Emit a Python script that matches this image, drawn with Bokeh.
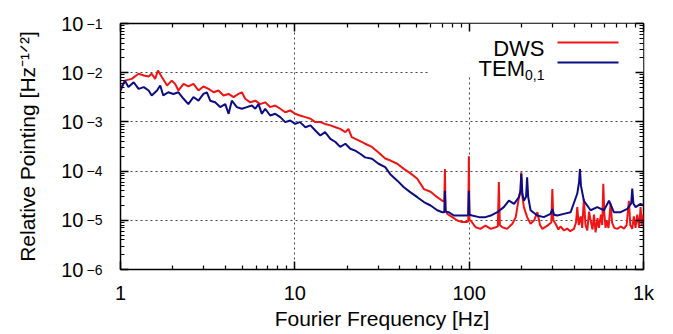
from bokeh.plotting import figure
from bokeh.models import (Range1d, LogAxis, FixedTicker, CustomJSTickFormatter,
                          Label, BoxAnnotation)
from bokeh.embed import file_html
from bokeh.resources import INLINE

# ---------------- data ----------------
dws_freq = [1.0, 1.06, 1.16, 1.27, 1.36, 1.45, 1.51, 1.58, 1.64, 1.73, 1.85, 1.97, 2.06, 2.15,
            2.30, 2.45, 2.62, 2.80, 2.99, 3.20, 3.42, 3.65, 3.90, 4.17, 4.45, 4.75, 4.97, 5.19,
            5.55, 5.93, 6.33, 6.76, 7.22, 7.72, 8.25, 8.81, 9.41, 10.05, 10.7, 11.5, 12.3, 13.1,
            14.0, 14.9, 16.0, 17.1, 18.2, 19.5, 20.3, 21.2, 23.2, 25.3, 27.7, 30.2, 33.0, 35.4,
            38.7, 42.2, 46.1, 50.4, 55.0, 60.1, 65.6, 70.1, 72.0, 72.6, 73.2, 74.9, 80.0, 85.5,
            91.3, 96.6, 98.8, 99.6, 100.4, 102, 109, 116, 124, 133, 142, 146, 148, 150, 155,
            165, 177, 185, 193, 197, 199, 201, 206, 215, 225, 236, 246, 255, 263, 281, 296,
            300, 304, 313, 325, 334, 350, 365, 380, 399, 410, 417, 425, 436, 445, 455, 465,
            476, 487, 497, 510, 520, 531, 545, 555, 570, 580, 588, 596, 606, 614, 630, 648,
            660, 680, 707, 740, 773, 800, 825, 840, 862, 880, 900, 921, 945, 962, 980, 1000]
dws_val = [4.7e-3, 6.9e-3, 7.5e-3, 9.5e-3, 8.8e-3, 8.4e-3, 9.5e-3, 7.5e-3, 1.11e-2, 8.1e-3,
           5.5e-3, 6.9e-3, 5.9e-3, 4.35e-3, 5.9e-3, 5.25e-3, 5.9e-3, 4.35e-3, 5.25e-3, 4.7e-3,
           4.0e-3, 4.35e-3, 3.45e-3, 3.7e-3, 3.2e-3, 3.7e-3, 4.0e-3, 2.95e-3, 2.5e-3, 2.7e-3,
           2.3e-3, 2.5e-3, 2.0e-3, 2.15e-3, 1.85e-3, 1.57e-3, 1.71e-3, 1.46e-3, 1.35e-3, 1.25e-3,
           1.16e-3, 9.9e-4, 9.9e-4, 9.1e-4, 8.5e-4, 7.8e-4, 7.2e-4, 6.2e-4, 7.2e-4, 4.9e-4,
           4.2e-4, 3.6e-4, 3.1e-4, 2.4e-4, 1.8e-4, 1.64e-4, 1.41e-4, 1.11e-4, 9.0e-5, 7.0e-5,
           4.3e-5, 3.8e-5, 2.95e-5, 2.5e-5, 2.4e-5, 1.1e-4, 1.6e-5, 1.35e-5, 1.16e-5, 9.9e-6,
           9.2e-6, 9.2e-6, 9.5e-6, 2.0e-4, 1.0e-5, 9.9e-6, 7.2e-6, 6.7e-6, 7.8e-6, 6.7e-6,
           7.2e-6, 7.5e-6, 6.0e-5, 8.0e-6, 7.2e-6, 6.7e-6, 8.5e-6, 1.16e-5, 2.95e-5, 4.0e-5,
           9.5e-5, 3.5e-5, 1.85e-5, 1.16e-5, 8.5e-6, 1.0e-5, 1.46e-5, 8.0e-6, 6.7e-6, 7.8e-6,
           9.0e-6, 4.3e-5, 1.0e-5, 8.5e-6, 6.5e-6, 7.5e-6, 6.2e-6, 6.8e-6, 6.0e-6, 6.7e-6,
           9.0e-6, 1.85e-5, 8.0e-6, 1.2e-5, 7.0e-6, 2.7e-5, 8.0e-6, 6.2e-6, 1.5e-5, 1.0e-5,
           6.5e-6, 1.3e-5, 5.7e-6, 1.1e-5, 7.0e-6, 1.3e-5, 8.0e-6, 5.5e-5, 1.4e-5, 7.0e-6,
           1.0e-5, 7.0e-6, 2.2e-5, 9.0e-6, 7.0e-6, 6.7e-6, 7.5e-6, 6.8e-6, 8.0e-6, 2.5e-5,
           8.0e-6, 6.7e-6, 1.2e-5, 7.0e-6, 1.3e-5, 7.0e-6, 1.85e-5, 8.0e-6, 1.3e-5]

tem_freq = [1.0, 1.06, 1.11, 1.19, 1.27, 1.36, 1.45, 1.51, 1.62, 1.69, 1.76, 1.88, 2.01, 2.15,
            2.30, 2.45, 2.62, 2.80, 2.99, 3.13, 3.27, 3.49, 3.73, 3.99, 4.17, 4.35, 4.65, 4.97,
            5.31, 5.67, 5.93, 6.19, 6.47, 6.76, 7.22, 7.72, 8.25, 8.81, 9.41, 10.05, 10.7, 11.5,
            12.3, 13.1, 14.0, 14.9, 16.0, 17.1, 18.2, 19.5, 20.8, 22.2, 23.7, 25.3, 27.7, 30.2,
            33.0, 35.4, 38.7, 42.2, 46.1, 50.4, 55.0, 60.1, 65.6, 70.1, 72.0, 72.6, 73.2, 76.5,
            81.7, 89.3, 96.6, 98.8, 99.6, 100.4, 104, 114, 124, 133, 145, 158, 169, 181, 193,
            197, 199, 202, 206, 212, 215, 218, 225, 246, 268, 293, 300, 307, 320, 349, 382,
            417, 427, 432, 438, 455, 497, 543, 593, 634, 676, 739, 807, 850, 862, 875, 901,
            962, 1000]
tem_val = [4.35e-3, 6.9e-3, 5.1e-3, 6.4e-3, 4.7e-3, 5.1e-3, 4.35e-3, 3.45e-3, 4.35e-3, 5.5e-3,
           3.45e-3, 4.0e-3, 3.7e-3, 4.0e-3, 2.95e-3, 2.3e-3, 3.2e-3, 2.7e-3, 3.7e-3, 4.0e-3,
           2.7e-3, 2.5e-3, 2.0e-3, 2.3e-3, 1.46e-3, 2.7e-3, 2.0e-3, 1.85e-3, 2.0e-3, 2.15e-3,
           1.85e-3, 2.3e-3, 1.46e-3, 1.85e-3, 1.35e-3, 1.46e-3, 1.25e-3, 9.9e-4, 1.07e-3, 9.1e-4,
           9.9e-4, 7.8e-4, 8.5e-4, 6.7e-4, 5.3e-4, 6.2e-4, 4.5e-4, 3.9e-4, 3.1e-4, 3.6e-4,
           2.85e-4, 2.6e-4, 2.25e-4, 1.9e-4, 1.78e-4, 1.41e-4, 1.2e-4, 8.5e-5, 6.4e-5, 4.7e-5,
           3.7e-5, 2.95e-5, 2.35e-5, 2.0e-5, 1.6e-5, 1.46e-5, 1.45e-5, 4.0e-5, 1.5e-5, 1.46e-5,
           1.25e-5, 1.25e-5, 1.25e-5, 1.3e-5, 4.0e-5, 1.3e-5, 1.25e-5, 1.16e-5, 1.16e-5, 1.25e-5,
           1.46e-5, 1.85e-5, 2.5e-5, 2.16e-5, 2.95e-5, 4.0e-5, 8.8e-5, 3.5e-5, 2.5e-5, 3.0e-5,
           7.5e-5, 3.0e-5, 1.6e-5, 1.25e-5, 1.16e-5, 1.35e-5, 1.7e-5, 1.3e-5, 1.25e-5, 1.35e-5,
           1.46e-5, 3.5e-5, 6.0e-5, 1.1e-4, 5.0e-5, 2.5e-5, 1.6e-5, 1.85e-5, 1.6e-5, 2.5e-5,
           1.46e-5, 1.46e-5, 1.7e-5, 2.2e-5, 4.4e-5, 2.2e-5, 1.85e-5, 2.16e-5, 2.0e-5]

x_major = [1, 10, 100, 1000]
x_labels = ["1", "10", "100", "1k"]
y_major = [1e-6, 1e-5, 1e-4, 1e-3, 1e-2, 1e-1]
y_base_labels = ["10", "10", "10", "10", "10", "10"]
y_exp_labels = ["\u22126", "\u22125", "\u22124", "\u22123", "\u22122", "\u22121"]
x_minor = [m * d for d in (1, 10, 100) for m in range(2, 10)]
y_minor = [m * d for d in (1e-6, 1e-5, 1e-4, 1e-3, 1e-2) for m in range(2, 10)]
series_names = ["DWS", "TEM"]
series_sub = "0,1"
series_colors = ["#f01414", "#0c0c84"]
x_title = "Fourier Frequency [Hz]"
y_title = "Relative Pointing [Hz\u207b\u00b9\u141f\u00b2]"

FONT = "Liberation Sans"

p = figure(width=673, height=334, x_axis_type="log", y_axis_type="log",
           x_range=Range1d(1, 1000), y_range=Range1d(1e-6, 1e-1),
           output_backend="svg", toolbar_location=None,
           min_border_left=120, min_border_right=30, min_border_top=23, min_border_bottom=65)
p.background_fill_color = "white"
p.border_fill_color = "white"
p.outline_line_color = "black"
p.outline_line_width = 1.5

LOOKUP = """
let best = -1, bd = 1e9;
for (let i = 0; i < vals.length; i++) {
  const d = Math.abs(Math.log10(vals[i]) - Math.log10(tick));
  if (d < bd) { bd = d; best = i; }
}
return bd < 1e-6 ? labs[best] : "";
"""
def fmt(vals, labs):
    return CustomJSTickFormatter(args=dict(vals=vals, labs=labs), code=LOOKUP)
blank = CustomJSTickFormatter(code="return ''")

xt = FixedTicker(ticks=x_major, minor_ticks=x_minor)
yt = FixedTicker(ticks=y_major, minor_ticks=y_minor)

# extra axes: mirrored ticks, and the "10" mantissa column on the left
p.add_layout(LogAxis(), "above")
p.add_layout(LogAxis(), "right")
base_axis = LogAxis()
p.add_layout(base_axis, "left")

for ax in p.axis:
    ax.axis_line_color = None
    ax.major_tick_in = 8
    ax.major_tick_out = 0
    ax.minor_tick_in = 4
    ax.minor_tick_out = 0
    ax.major_tick_line_width = 1.5
    ax.minor_tick_line_width = 1.2
    ax.major_tick_line_color = "black"
    ax.minor_tick_line_color = "black"
    ax.major_label_text_font = FONT
    ax.major_label_text_color = "black"
    ax.major_label_text_font_size = "20px"
    ax.axis_label_text_font = FONT
    ax.axis_label_text_font_style = "normal"
    ax.axis_label_text_font_size = "21px"
    ax.axis_label_text_color = "black"
    ax.major_label_standoff = 0

for ax in p.xaxis:
    ax.ticker = xt
    ax.formatter = blank
for ax in p.yaxis:
    ax.ticker = yt
    ax.formatter = blank

bottom = p.below[0]
bottom.formatter = fmt(x_major, x_labels)
bottom.major_label_standoff = 12
bottom.axis_label = x_title
bottom.axis_label_standoff = 0

inner = p.left[0]          # tick marks + exponent labels
inner.formatter = fmt(y_major, y_exp_labels)
inner.major_label_text_font_size = "14px"
inner.major_label_standoff = 18
inner.major_label_text_baseline = "alphabetic"

base_axis.ticker = FixedTicker(ticks=y_major, minor_ticks=[])
base_axis.formatter = fmt(y_major, y_base_labels)
base_axis.major_tick_in = 0
base_axis.minor_tick_in = 0
base_axis.major_tick_line_color = None
base_axis.minor_tick_line_color = None
base_axis.major_label_standoff = 0
base_axis.axis_label = y_title
base_axis.axis_label_standoff = 19

p.xgrid.ticker = FixedTicker(ticks=x_major)
p.ygrid.ticker = FixedTicker(ticks=y_major)
for g in (p.xgrid, p.ygrid):
    g.grid_line_color = "#444444"
    g.grid_line_dash = "2 3"
    g.grid_line_width = 1
    g.minor_grid_line_color = None

# key background (hides the grid behind the key)
p.add_layout(BoxAnnotation(left=308, right=523, bottom=194, top=246,
                           left_units="screen", right_units="screen",
                           bottom_units="screen", top_units="screen",
                           fill_color="white", fill_alpha=1.0, line_color=None,
                           level="glyph"))

p.line(dws_freq, dws_val, line_color=series_colors[0], line_width=2)
p.line(tem_freq, tem_val, line_color=series_colors[1], line_width=2)

# key
p.add_layout(Label(x=424, y=221, x_units="screen", y_units="screen", text=series_names[0],
                   text_align="right", text_baseline="alphabetic", text_font=FONT,
                   text_font_size="22px", text_color="black"))
p.add_layout(Label(x=404.5, y=201, x_units="screen", y_units="screen", text=series_names[1],
                   text_align="right", text_baseline="alphabetic", text_font=FONT,
                   text_font_size="22px", text_color="black"))
p.add_layout(Label(x=424, y=195, x_units="screen", y_units="screen", text=series_sub,
                   text_align="right", text_baseline="alphabetic", text_font=FONT,
                   text_font_size="14px", text_color="black"))
for c, yy in zip(series_colors, (227, 207)):
    p.add_layout(BoxAnnotation(left=437, right=498, bottom=yy - 1, top=yy + 1,
                               left_units="screen", right_units="screen",
                               bottom_units="screen", top_units="screen",
                               fill_color=c, fill_alpha=1.0, line_color=None))

open("out.html", "w").write(file_html(p, INLINE))
